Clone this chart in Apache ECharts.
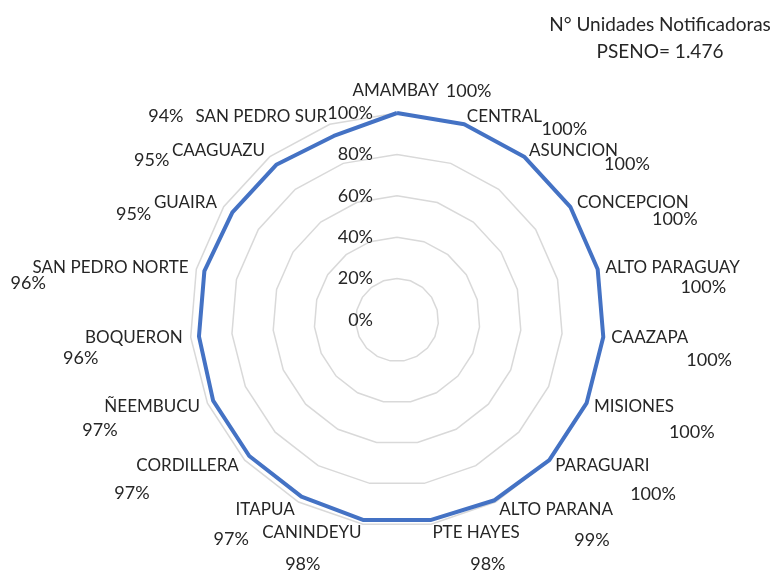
<!DOCTYPE html>
<html>
<head>
<meta charset="utf-8">
<script src="https://cdn.jsdelivr.net/npm/echarts@6/dist/echarts.min.js"></script>
<style>html,body{margin:0;padding:0;background:#fff;}#c{width:771px;height:571px;}</style>
</head>
<body>
<div id="c"></div>
<script>
// categories listed clockwise from the top, as in the reference
const categories = ['AMAMBAY','CENTRAL','ASUNCION','CONCEPCION','ALTO PARAGUAY','CAAZAPA','MISIONES','PARAGUARI','ALTO PARANA','PTE HAYES','CANINDEYU','ITAPUA','CORDILLERA','ÑEEMBUCU','BOQUERON','SAN PEDRO NORTE','GUAIRA','CAAGUAZU','SAN PEDRO SUR'];
const values = [100,100,100,100,100,100,100,100,99,98,98,97,97,97,96,96,95,95,94];
const axisMax = 100;
const axisStep = 20;
const titleLines = ['N° Unidades Notificadoras','PSENO= 1.476'];

const FONT = 'Lato';
const FS_NAME = 17;
const FS_VAL = 18;
const TXT = '#262626';
const N = categories.length;

// ECharts radar lays indicators out counter-clockwise: reverse order (keeping first on top)
const order = categories.map((c, j) => (N - j) % N);

const rich = {};
const layoutInfo = categories.map((c, i) => {
  const th = 2 * Math.PI * i / N; // clockwise angle from top
  const s = Math.sin(th), co = Math.cos(th);
  const bn = {fontFamily: FONT, fontSize: FS_NAME, color: TXT};
  const bv = {fontFamily: FONT, fontSize: FS_VAL, color: TXT};
  if (i === 0) {
    rich['n' + i] = Object.assign({}, bn, {lineHeight: 28, padding: [0, 0, 0, 50]});
    rich['v' + i] = Object.assign({}, bv, {lineHeight: 28, padding: [0, 0, 0, 7]});
    return 'top';
  }
  if (s > 0) {
    const dy = 22 - 10 * co;
    const hv = Math.max(2, 2 * dy - 18);
    const off = Math.min(75, 230 * s);
    rich['n' + i] = Object.assign({}, bn, {lineHeight: 18});
    rich['s' + i] = Object.assign({}, bn, {lineHeight: hv});
    rich['v' + i] = Object.assign({}, bv, {lineHeight: hv, padding: [0, 0, 0, off]});
    return 'right';
  }
  if (co > 0.9) {
    rich['n' + i] = Object.assign({}, bn, {lineHeight: 18, padding: [0, 0, 0, 12]});
    rich['v' + i] = Object.assign({}, bv, {lineHeight: 18});
    return 'inline';
  }
  const dy = 19 - 13 * co;
  const hv = Math.max(2, 2 * dy - 18);
  const off = co > 0.5 ? -38 : (co < -0.95 ? 23 : -22);
  rich['n' + i] = Object.assign({}, bn, {lineHeight: 18, padding: [0, 0, 0, Math.max(0, -off)]});
  rich['s' + i] = Object.assign({}, bn, {lineHeight: hv});
  rich['v' + i] = Object.assign({}, bv, {lineHeight: hv, align: 'left', padding: [0, 0, 0, Math.max(0, off)]});
  return 'left';
});

const indicators = order.map((i, j) => {
  const ind = {name: categories[i], max: axisMax, min: 0};
  if (j === 0) {
    ind.axisLabel = {
      show: true, margin: 24, fontFamily: FONT, fontSize: FS_VAL, color: TXT,
      formatter: v => v + '%'
    };
  }
  return ind;
});
const seriesValues = order.map(i => values[i]);

const chart = echarts.init(document.getElementById('c'), null, {renderer: 'canvas'});
chart.setOption({
  animation: false,
  backgroundColor: '#fff',
  title: {
    text: titleLines.join('\n'),
    left: 655, top: 6, textAlign: 'center',
    textStyle: {fontFamily: FONT, fontSize: 19, fontWeight: 'normal', color: TXT, lineHeight: 27}
  },
  radar: {
    center: [397, 320],
    radius: 207,
    startAngle: 90,
    shape: 'polygon',
    splitNumber: axisMax / axisStep,
    nameGap: 8,
    indicator: indicators,
    axisName: {
      color: TXT, fontFamily: FONT, fontSize: FS_NAME,
      formatter: (name) => {
        const i = categories.indexOf(name);
        const val = values[i] + '%';
        const kind = layoutInfo[i];
        if (kind === 'top') return '{n' + i + '|' + name + '}{v' + i + '|' + val + '}';
        if (kind === 'inline') return '{v' + i + '|' + val + '}{n' + i + '|' + name + '}';
        return '{s' + i + '| }\n{n' + i + '|' + name + '}\n{v' + i + '|' + val + '}';
      },
      rich: rich
    },
    axisLine: {show: false},
    axisTick: {show: false},
    axisLabel: {show: false},
    splitArea: {show: false},
    splitLine: {lineStyle: {color: '#d9d9d9', width: 1.5}}
  },
  series: [{
    type: 'radar',
    symbol: 'none',
    lineStyle: {color: '#4472C4', width: 4},
    data: [{value: seriesValues, name: 'PSENO'}]
  }]
});
</script>
</body>
</html>
